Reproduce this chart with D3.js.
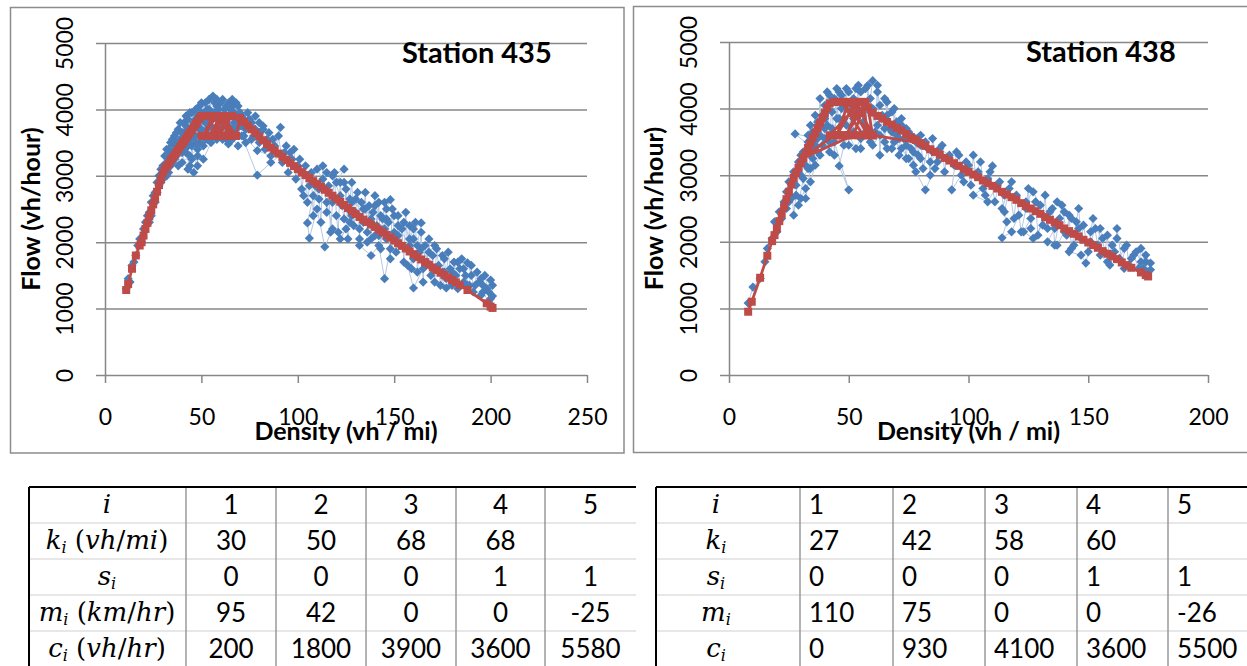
<!DOCTYPE html>
<html>
<head>
<meta charset="utf-8">
<script src="https://cdn.jsdelivr.net/npm/d3@7"></script>
<style>
  body { margin: 0; background: #fff; }
  svg { display: block; }
</style>
</head>
<body>
<svg id="fig" width="1247" height="666"></svg>
<script>
// ---- data ----
var yTicks = [0, 1000, 2000, 3000, 4000, 5000];
var xTicks435 = [0, 50, 100, 150, 200, 250];
var xTicks438 = [0, 50, 100, 150, 200];

// measured flow vs density, station 435 (density vh/mi, flow vh/hour)
var blue435 = [[11,1300],[12,1450],[13,1400],[14,1650],[15,1700],[16,1800],[17,1950],[18,2050],[19,2000],[20,2200],
  [21,2300],[22,2400],[23,2450],[24,2600],[25,2700],[26,2750],[27,2900],[28,3000],[29,3100],[30,3150],
  [31,3300],[32,3200],[33,3400],[34,3500],[35,3350],[36,3600],[37,3450],[38,3700],[39,3550],[40,3650],
  [41,3800],[42,3600],[43,3850],[44,3700],[45,3950],[46,3800],[47,4000],[48,3900],[49,4050],[50,3950],
  [52,4100],[54,4000],[56,4200],[58,4050],[60,4100],[62,4000],[64,4100],[66,4050],[68,4100],[70,3950],
  [72,3850],[74,3950],[76,3800],[78,3700],[80,3650],[84,3550],[88,3450],[91,3730],[86,3300],[79,3380],
  [72,3600],[66,3700],[61,3800],[57,3700],[55,3500],[51,3250],[48,3400],[44,3300],[40,3200],[37,3300],
  [34,3150],[32,3000],[30,2950],[33,3300],[36,3450],[39,3400],[43,3100],[46,3050],[49,3500],[53,3700],
  [59,3620],[64,3480],[62,3900],[58,3900],[54,3850],[50,3700],[47,3600],[45,3450],[42,3350],[40,3450],
  [44,3550],[48,3750],[52,3800],[57,3950],[63,3550],[67,3800],[71,3600],[79,3010],[86,3200],[93,3350],
  [97,3250],[100,3150],[103,3050],[106,2850],[110,3100],[113,2950],[108,2700],[105,2290],[106,2060],[110,2500],
  [114,1930],[118,2200],[115,2600],[120,2900],[124,3100],[118,3000],[122,2700],[126,2500],[130,2650],[128,2400],
  [125,2200],[122,2050],[127,2300],[132,2200],[135,2500],[138,2350],[140,2550],[143,2400],[146,2500],[148,2640],
  [150,2400],[145,2200],[140,2100],[136,2000],[132,1950],[138,1800],[142,1950],[145,1450],[148,1900],[152,2100],
  [155,2300],[158,2050],[160,2200],[164,2290],[162,1950],[160,1750],[157,1650],[160,1310],[165,1600],[168,1850],
  [171,1950],[175,1800],[172,1600],[177,1310],[180,1550],[183,1700],[186,1600],[188,1690],[190,1500],[186,1400],
  [192,1350],[195,1450],[198,1300],[200,1430],[201,1190],[199,1100],[196,1250]];
var blue435Peak = [[31,3100],[32,3400],[33,3050],[34,3350],[35,3550],[36,3250],[37,3650],[38,3150],[39,3800],[40,3350],
  [41,3650],[42,3900],[43,3450],[44,3950],[45,3250],[46,3600],[47,3850],[48,3150],[49,3700],[50,4100],
  [51,3450],[52,3950],[53,3550],[54,4150],[55,3750],[56,3950],[57,4100],[58,3550],[59,4000],[60,3700],
  [61,4150],[62,3600],[63,4050],[64,3750],[65,4000],[66,3550],[67,3950],[68,3700],[69,4050],[70,3750],
  [71,3900],[73,3700],[75,3850],[77,3600],[78,3900],[80,3800],[82,3700],[76,3550],[73,3500],[69,3450],
  [65,3600],[61,3550],[56,3600],[52,3550],[48,3300],[44,3150],[41,3400],[38,3500],[35,3200],[32,3100],
  [29,2900],[27,2750],[26,2600],[24,2400],[23,2300],[28,2850],[30,3050],[36,3500],[42,3750],[47,3500],
  [53,4000],[58,4150],[63,3850],[66,4150],[71,3750]];
var blue435Tail = [[80,3500],[82,3750],[83,3400],[85,3650],[87,3550],[89,3350],[90,3600],[92,3200],[94,3450],[95,3050],
  [96,3350],[98,3400],[99,2950],[101,3250],[102,2800],[104,3150],[105,2600],[107,3050],[108,2400],[109,2850],
  [111,2650],[112,2300],[113,3150],[115,2450],[116,2850],[117,2150],[118,2600],[119,3050],[120,2400],[121,2150],
  [122,2900],[123,2550],[124,2350],[125,2800],[126,2050],[127,2650],[128,2900],[129,2250],[130,2450],[131,2750],
  [132,2050],[133,2600],[134,2300],[135,2750],[136,2150],[137,2550],[138,2050],[139,2450],[140,2700],[141,2250],
  [142,2600],[143,1900],[144,2350],[145,2600],[146,2050],[147,2300],[148,1750],[149,2500],[150,2150],[151,1850],
  [152,2400],[153,1950],[154,2200],[155,1700],[156,2450],[157,1900],[158,2250],[159,1600],[160,2050],[161,2300],
  [162,1550],[163,1850],[164,2150],[165,1400],[166,1950],[167,1700],[168,2050],[169,1500],[170,1800],[171,1400],
  [172,1900],[173,1650],[174,1350],[175,1550],[176,1750],[177,1450],[178,1850],[179,1600],[180,1350],[181,1700],
  [182,1500],[183,1300],[184,1600],[185,1750],[187,1500],[189,1350],[190,1650],[191,1250],[193,1550],[194,1400],
  [196,1350],[197,1500],[199,1250],[200,1150],[201,1350],[195,1200],[188,1350],[182,1400],[176,1550],[170,1600],
  [164,1900],[158,1950],[152,2250],[146,2350],[142,2100],[134,2500],[128,2600],[124,2900],[115,3050],[111,2800],
  [106,3000],[103,2700]];

// fitted piecewise model, station 435
var red435 = [[11,1280],[12,1370],[14,1600],[16,1800],[18,1950],[19,2000],[20,2100],[21,2200],[22,2290],[23,2390],
  [24,2480],[25,2570],[26,2660],[27,2760],[28,2860],[29,2950],[30,3040],[31,3100],[32,3140],[33,3180],
  [34,3230],[35,3270],[36,3310],[37,3350],[38,3400],[39,3440],[40,3480],[41,3520],[42,3560],[43,3610],
  [44,3650],[45,3690],[46,3730],[47,3780],[48,3820],[49,3860],[50,3900],
  [52,3900],[54,3900],[56,3900],[58,3900],[60,3900],[62,3900],[64,3900],[66,3900],
  [57,3600],[60,3900],[54,3600],[63,3900],[59,3600],[65,3900],[62,3600],[56,3900],[51,3600],[58,3900],
  [66,3600],[61,3900],[68,3600],
  [50,3600],[52,3600],[54,3600],[56,3600],[58,3600],[60,3600],[62,3600],[64,3600],[66,3600],[68,3600],
  [70,3870],[72,3815],[74,3760],[76,3700],[78,3645],[80,3590],[82,3535],[84,3480],[86,3425],[88,3380],
  [90,3335],[92,3285],[94,3240],[96,3195],[98,3145],[100,3100],[102,3055],[104,3010],[106,2965],[108,2920],
  [110,2880],[112,2835],[114,2790],[116,2745],[118,2700],[120,2655],[122,2610],[124,2560],[126,2515],[128,2470],
  [130,2425],[132,2380],[134,2340],[136,2305],[138,2265],[140,2230],[142,2190],[144,2150],[146,2110],[148,2070],
  [150,2025],[152,1985],[154,1945],[156,1905],[158,1860],[160,1820],[162,1780],[164,1740],[166,1700],[168,1660],
  [170,1620],[172,1580],[174,1540],[176,1505],[178,1470],[180,1430],[182,1395],[184,1355],[188,1280],[198,1080],
  [200,1030],[201,1010]];

// measured flow vs density, station 438
var blue438 = [[8,1080],[10,1320],[13,1450],[15,1700],[16,1900],[18,2050],[19,2300],[20,2150],[21,2450],[22,2350],
  [23,2600],[24,2750],[24,2500],[25,2900],[26,2650],[27,3050],[28,2850],[29,3200],[30,3000],[31,3350],
  [32,3150],[33,3500],[34,3300],[35,3650],[36,3450],[37,3800],[38,3600],[39,3900],[40,4050],[41,3750],
  [42,4200],[43,3950],[44,4150],[45,3850],[46,4250],[47,4000],[48,4100],[50,4250],[52,4150],[53,4300],
  [55,4250],[57,4300],[59,4150],[60,4420],[62,4250],[63,4050],[65,4150],[66,3900],[68,3950],[70,3800],
  [72,3850],[74,3700],[76,3600],[78,3550],[80,3450],[82,3500],[85,3350],[88,3300],[86,3100],[82,2780],
  [78,3050],[75,3250],[72,3400],[69,3500],[66,3400],[63,3600],[60,3450],[58,3700],[55,3550],[53,3400],
  [50,3600],[48,3450],[46,3140],[50,2780],[44,3500],[42,3350],[40,3550],[38,3300],[36,3150],[34,2900],
  [32,2800],[30,2650],[29,2550],[31,2950],[33,3100],[35,3400],[27.6,3620],[37,3550],[40,3850],[43,3700],
  [46,3850],[49,3750],[52,3850],[56,3800],[59,3950],[62,3750],[65,3700],[68,3650],[71,3550],[74,3450],
  [77,3350],[80,3250],[84,3200],[88,3400],[92,3300],[95,3350],[93,2780],[97,3000],[100,3150],[104,3050],
  [108,2950],[110,3140],[106,2800],[102,2700],[108,2600],[112,2850],[115,2700],[118,2900],[114,2500],[116,2300],
  [114,2060],[118,2150],[121,2400],[124,2600],[127,2750],[130,2550],[126,2350],[123,2150],[127,2050],[131,2250],
  [134,2450],[137,2600],[140,2450],[136,2200],[133,2000],[137,1950],[140,2150],[143,2350],[146,2200],[144,1950],
  [142,1850],[147,1800],[149,1680],[151,2000],[153,2200],[156,2050],[155,1800],[158,1700],[160,1950],[162,2050],
  [165,1900],[163,1750],[165,1600],[168,1750],[170,1850],[172,1700],[174,1800],[176,1680],[176,1580],[173,1600]];
var blue438Extra = [[25,2600],[26,2900],[27,2400],[28,2700],[30,3300],[32,2650],[34,3100],
  [33,3600],[34,3750],[35,3250],[36,3900],[37,3350],[38,4150],[39,3450],[40,3700],[41,4250],[42,3500],
  [43,4100],[44,3300],[45,4300],[46,3600],[47,4200],[48,3850],[49,4300],[50,3450],[51,4050],[52,3650],
  [53,3950],[54,4350],[55,3400],[56,4000],[57,3650],[58,4350],[59,3500],[60,4000],[61,3650],[62,4350],
  [63,3300],[64,3900],[65,3500],[66,4100],[67,3700],[68,3400],[69,4000],[70,3600],[71,3300],[72,3750],
  [73,3550],[74,3250],[75,3650],[76,3400],[77,3150],[78,3500],[79,3300],[80,3600],[81,3100],[83,3400],
  [84,3000],[85,3550],[87,3200],[89,3450],[90,3050],[91,3250],[94,3150],[96,3300],[98,2900],[99,3200],
  [101,2850],[102,3300],[103,3000],[105,3200],[107,2700],[109,3050],[111,2600],[113,2900],[115,2450],[117,2800],
  [119,2350],[120,2700],[122,2150],[124,2500],[125,2800],[126,2200],[128,2600],[129,2100],[131,2400],[132,2700],
  [133,2200],[135,2500],[136,1950],[138,2350],[139,2550],[141,2100],[142,2400],[143,1900],[145,2300],[146,2500],
  [147,2050],[148,2250],[150,1850],[151,2150],[152,2350],[154,1950],[155,2200],[157,1850],[158,2100],[159,1650],
  [161,1850],[162,2200],[164,1700],[166,1950],[167,1650],[169,1800],[171,1600],[172,1900],[174,1700],[175,1550]];

// fitted piecewise model, station 438
var red438 = [[8,950],[9.5,1100],[13,1460],[16,1790],[18,2010],[19,2100],[20,2200],[21,2310],[22,2420],[23,2530],
  [24,2640],[25,2750],[26,2860],[27,2960],[28,3030],[29,3110],[30,3180],[31,3260],[32,3330],[33,3410],
  [34,3480],[35,3560],[36,3630],[37,3710],[38,3780],[39,3860],[40,3930],[41,4010],[42,4080],
  [44,4100],[46,4100],[48,4100],[50,4100],[52,4100],[54,4100],[56,4100],
  [58,3600],[50,4100],[45,3600],[53,4100],[60,3600],[47,4100],[56,3600],[42,3600],[55,4100],[49,3600],
  [57,4100],[52,3600],[31,3260],[44,3600],[46,3600],[48,3600],[50,3600],[54,3600],[58,3600],[60,3600],
  [80,3480],[60,3600],[58,4020],
  [60,3940],[62,3890],[64,3850],[66,3800],[68,3760],[70,3710],[72,3670],[74,3620],[76,3570],[78,3530],
  [80,3480],[82,3440],[84,3390],[86,3350],[88,3310],[90,3260],[92,3220],[94,3180],[96,3140],[98,3090],
  [100,3050],[102,3010],[104,2970],[106,2920],[108,2880],[110,2840],[112,2800],[114,2750],[116,2710],[118,2670],
  [120,2630],[122,2580],[124,2540],[126,2500],[128,2460],[130,2420],[132,2370],[134,2330],[136,2290],[138,2250],
  [140,2200],[142,2160],[144,2120],[146,2080],[148,2030],[150,1990],[152,1950],[154,1910],[156,1860],[158,1820],
  [160,1780],[162,1740],[164,1690],[166,1650],[168,1610],[172,1540],[174,1500],[175,1480]];

// parameter tables
var rowSymbols = ["i", "k", "s", "m", "c"];
var rowSubs = ["", "i", "i", "i", "i"];
var units435 = ["", "vh/mi", "", "km/hr", "vh/hr"];
var units438 = ["", "", "", "", ""];
var vals435 = [["1","2","3","4","5"], ["30","50","68","68",""], ["0","0","0","1","1"],
               ["95","42","0","0","-25"], ["200","1800","3900","3600","5580"]];
var vals438 = [["1","2","3","4","5"], ["27","42","58","60",""], ["0","0","0","1","1"],
               ["110","75","0","0","-26"], ["0","930","4100","3600","5500"]];

var svg = d3.select("#fig");
var gridCol = "#878787";

function drawChart(o) {
  var g = svg.append("g");

  // chart frame
  g.append("rect")
    .attr("x", o.panel[0]).attr("y", o.panel[1])
    .attr("width", o.panel[2]).attr("height", o.panel[3])
    .attr("fill", "none").attr("stroke", "#8c8c8c").attr("stroke-width", 1.5);

  var x = d3.scaleLinear().domain(o.xDomain).range([o.left, o.right]);
  var y = d3.scaleLinear().domain([0, 5000]).range([o.bottom, o.top]);
  var w = o.right - o.left;

  // y axis + gridlines
  var ya = g.append("g")
    .attr("transform", "translate(" + o.left + ",0)")
    .call(d3.axisLeft(y).tickValues(yTicks).tickFormat(d3.format("d")).tickSizeOuter(0).tickSizeInner(9));
  ya.attr("font-family", "Lato").attr("font-size", 23);
  ya.select(".domain").attr("stroke", gridCol).attr("stroke-width", 1.5);
  ya.selectAll(".tick line").attr("x1", -9).attr("x2", w)
    .attr("stroke", gridCol).attr("stroke-width", 1.5);
  ya.selectAll(".tick text")
    .attr("x", 0).attr("dy", null)
    .attr("text-anchor", "middle").attr("fill", "#000")
    .attr("transform", "translate(-32,0) rotate(-90)");

  // x axis ticks
  var xa = g.append("g")
    .attr("transform", "translate(0," + o.bottom + ")")
    .call(d3.axisBottom(x).tickValues(o.xTicks).tickSizeOuter(0).tickSize(8));
  xa.attr("font-family", "Lato").attr("font-size", 23);
  xa.select(".domain").remove();
  xa.selectAll(".tick line").attr("stroke", gridCol).attr("stroke-width", 1.5);
  xa.selectAll(".tick text").attr("y", 50).attr("dy", null).attr("fill", "#000");

  var line = d3.line()
    .x(function(d) { return x(d[0]); })
    .y(function(d) { return y(d[1]); });

  // measured series: each recorded run is its own thin polyline
  var allBlue = [];
  o.blueSets.forEach(function(s) {
    g.append("path").datum(s)
      .attr("d", line).attr("fill", "none")
      .attr("stroke", "#b4c8e3").attr("stroke-width", 1);
    allBlue = allBlue.concat(s);
  });
  g.append("g").selectAll("path")
    .data(allBlue).enter().append("path")
    .attr("d", "M0,-4.6L4.6,0L0,4.6L-4.6,0Z")
    .attr("transform", function(d) { return "translate(" + x(d[0]) + "," + y(d[1]) + ")"; })
    .attr("fill", "#4a7ebb");

  // model series
  g.append("path").datum(o.red)
    .attr("d", line).attr("fill", "none")
    .attr("stroke", "#be4b48").attr("stroke-width", 2.8);
  g.append("g").selectAll("rect")
    .data(o.red).enter().append("rect")
    .attr("x", function(d) { return x(d[0]) - 4; })
    .attr("y", function(d) { return y(d[1]) - 4; })
    .attr("width", 8).attr("height", 8)
    .attr("fill", "#be4b48");

  // titles
  g.append("text")
    .attr("x", o.titleX).attr("y", o.titleY)
    .attr("font-family", "Lato").attr("font-weight", "bold").attr("font-size", 29)
    .text(o.title);
  g.append("text")
    .attr("transform", "translate(" + o.yLabelX + "," + ((o.top + o.bottom) / 2) + ") rotate(-90)")
    .attr("text-anchor", "middle")
    .attr("font-family", "Lato").attr("font-weight", "bold").attr("font-size", 25)
    .text("Flow (vh/hour)");
  g.append("text")
    .attr("x", (o.left + o.right) / 2).attr("y", 440)
    .attr("text-anchor", "middle")
    .attr("font-family", "Lato").attr("font-weight", "bold").attr("font-size", 25)
    .text("Density (vh / mi)");
}

drawChart({
  panel: [10.5, 7.5, 613.5, 445.5],
  left: 105, right: 587, top: 43, bottom: 375,
  xDomain: [0, 250], xTicks: xTicks435,
  blueSets: [blue435, blue435Peak, blue435Tail], red: red435,
  title: "Station 435", titleX: 402, titleY: 63, yLabelX: 40
});
drawChart({
  panel: [633.5, 6.5, 700, 446],
  left: 729, right: 1208, top: 42, bottom: 375,
  xDomain: [0, 200], xTicks: xTicks438,
  blueSets: [blue438, blue438Extra], red: red438,
  title: "Station 438", titleX: 1026, titleY: 62, yLabelX: 663
});

function drawTable(o) {
  var g = svg.append("g");
  var top = 487, rowH = 36, bottom = 670;
  var cols = o.cols;

  // row separators
  for (var r = 1; r <= 5; r++) {
    g.append("line")
      .attr("x1", cols[0]).attr("x2", cols[cols.length - 1])
      .attr("y1", top + r * rowH).attr("y2", top + r * rowH)
      .attr("stroke", "#cfcfcf").attr("stroke-width", 1.2);
  }
  // column separators
  for (var c = 1; c < cols.length - 1; c++) {
    g.append("line")
      .attr("x1", cols[c]).attr("x2", cols[c])
      .attr("y1", top).attr("y2", bottom)
      .attr("stroke", "#8a8a8a").attr("stroke-width", 1.3);
  }
  // outer border (top + left)
  g.append("line").attr("x1", cols[0]).attr("x2", cols[cols.length - 1])
    .attr("y1", top).attr("y2", top).attr("stroke", "#000").attr("stroke-width", 2);
  g.append("line").attr("x1", cols[0]).attr("x2", cols[0])
    .attr("y1", top).attr("y2", bottom).attr("stroke", "#000").attr("stroke-width", 2);

  // row labels (math style)
  rowSymbols.forEach(function(sym, r) {
    var t = g.append("text")
      .attr("x", o.labelX).attr("y", top + r * rowH + 26)
      .attr("text-anchor", "middle")
      .attr("font-family", "DejaVu Serif").attr("font-size", 26);
    t.append("tspan").attr("font-style", "italic").text(sym);
    if (rowSubs[r]) {
      t.append("tspan").attr("font-style", "italic").attr("font-size", 16).attr("dy", 4).text(rowSubs[r]);
    }
    if (o.units[r]) {
      var parts = o.units[r].split("/");
      t.append("tspan").attr("dy", -4).text(" (");
      t.append("tspan").attr("font-style", "italic").text(parts[0]);
      t.append("tspan").text("/");
      t.append("tspan").attr("font-style", "italic").text(parts[1]);
      t.append("tspan").text(")");
    }
  });

  // values
  o.vals.forEach(function(row, r) {
    row.forEach(function(v, c) {
      g.append("text")
        .attr("x", o.center ? (cols[c + 1] + cols[c + 2]) / 2 : cols[c + 1] + 9)
        .attr("y", top + r * rowH + 27)
        .attr("text-anchor", o.center ? "middle" : "start")
        .attr("font-family", "Lato").attr("font-size", 26)
        .text(v);
    });
  });
}

drawTable({ cols: [29, 186, 276, 366, 456, 545, 636], labelX: 107, units: units435, vals: vals435, center: true });
drawTable({ cols: [656, 800, 893, 985, 1077, 1168, 1262], labelX: 716, units: units438, vals: vals438, center: false });
</script>
</body>
</html>
